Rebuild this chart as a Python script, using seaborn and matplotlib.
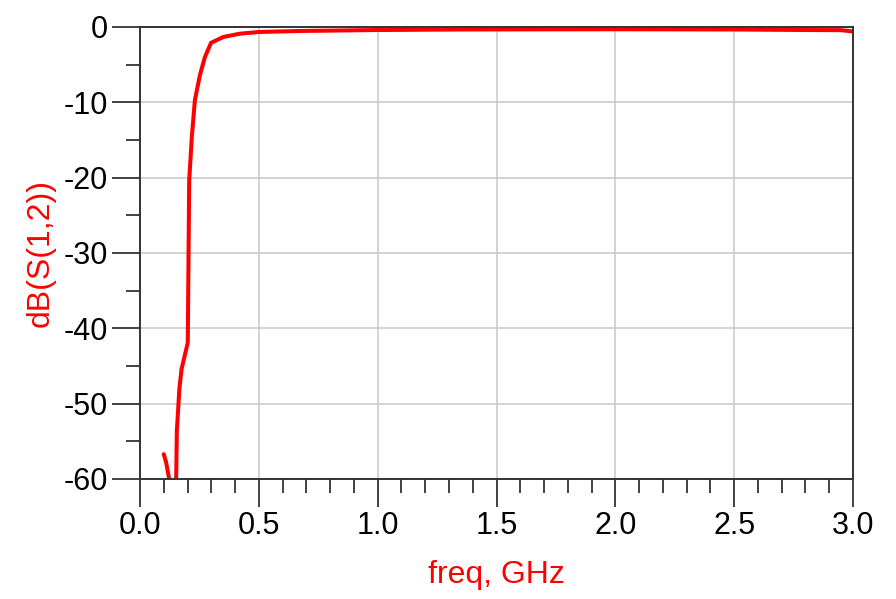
import matplotlib
matplotlib.use('Agg')
import matplotlib.pyplot as plt
from matplotlib.ticker import MultipleLocator, FormatStrFormatter
import seaborn as sns
import pandas as pd

# S21 sweep, values
freq_ghz = [0.10, 0.11, 0.14, 0.152, 0.155, 0.166, 0.175, 0.201, 0.207, 0.218,
            0.231, 0.252, 0.273, 0.299, 0.35, 0.42, 0.50, 0.67, 1.00, 1.35,
            2.00, 2.50, 2.80, 2.95, 3.00]
db_s12 = [-56.7, -57.8, -63.0, -60.5, -53.6, -47.9, -45.4, -41.9, -20.4, -14.6,
          -9.7, -6.4, -4.0, -2.1, -1.33, -0.89, -0.66, -0.53, -0.40, -0.33,
          -0.30, -0.33, -0.40, -0.42, -0.60]

df = pd.DataFrame({'freq': freq_ghz, 'db': db_s12})

sns.set_style('white')
plt.rcParams['font.family'] = ['Liberation Sans', 'DejaVu Sans']
plt.rcParams['axes.unicode_minus'] = False

fig = plt.figure(figsize=(8.96, 5.99), dpi=100)
ax = fig.add_axes([140 / 896, 1 - 479 / 599, 713 / 896, 452 / 599])

sns.lineplot(data=df, x='freq', y='db', color='#ff0000', linewidth=2.9, ax=ax)

ax.set_xlim(0, 3.0)
ax.set_ylim(-60, 0)
ax.xaxis.set_major_locator(MultipleLocator(0.5))
ax.xaxis.set_minor_locator(MultipleLocator(0.1))
ax.yaxis.set_major_locator(MultipleLocator(10))
ax.yaxis.set_minor_locator(MultipleLocator(5))
ax.xaxis.set_major_formatter(FormatStrFormatter('%.1f'))

ax.grid(True, which='major', color='#c8c8c8', linewidth=1.1)
ax.set_axisbelow(True)
for sp in ax.spines.values():
    sp.set_color('#333333')
    sp.set_linewidth(1.4)
    sp.set_visible(True)

ax.tick_params(which='major', direction='out', length=20, width=1.3, color='#333333',
               labelsize=22, labelcolor='black', pad=3, bottom=True, left=True)
ax.tick_params(which='minor', direction='out', length=10, width=1.3, color='#333333',
               bottom=True, left=True)

ax.set_xlabel('freq, GHz', color='#ff0000', fontsize=23, labelpad=14)
ax.set_ylabel('dB(S(1,2))', color='#ff0000', fontsize=23, labelpad=6)

fig.savefig('out.png', dpi=100)
